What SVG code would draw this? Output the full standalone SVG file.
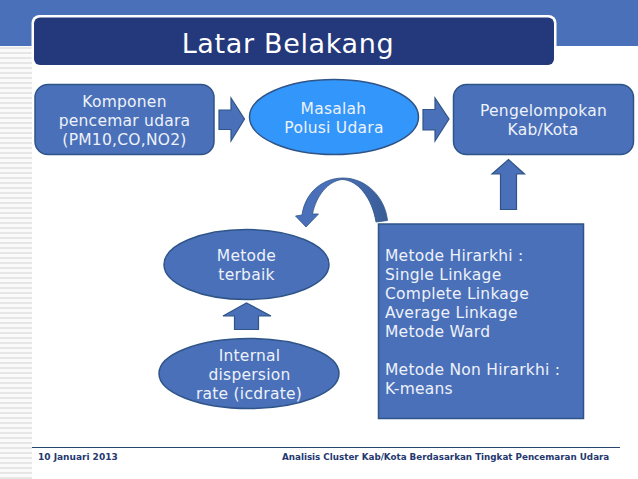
<svg xmlns="http://www.w3.org/2000/svg" width="638" height="479" viewBox="0 0 638 479">
<style>
text{font-family:"DejaVu Sans","Liberation Sans",sans-serif;fill:#eef2fa;text-anchor:middle;font-size:15.500px;letter-spacing:.25px}
.n{fill:#4a70b9;stroke:#2f5488;stroke-width:1.5}
.a{fill:#4a70b9;stroke:#2f5488;stroke-width:1.2}
.l{text-anchor:start}
.f{font-size:9px;font-weight:bold;fill:#24386f;text-anchor:start;letter-spacing:0}
</style>
<defs>
<pattern id="st" width="32" height="5" patternUnits="userSpaceOnUse"><rect width="32" height="5" fill="#fafafa"/><rect y="2" width="32" height="2" fill="#e6e6e6"/></pattern>
<linearGradient id="cv" x1="0" y1="0" x2="1" y2="0"><stop offset="0" stop-color="#4a70b9"/><stop offset="0.5" stop-color="#4a70b9"/><stop offset="1" stop-color="#385c94"/></linearGradient>
</defs>
<rect width="638" height="479" fill="#fff"/>
<g id="background">
<rect width="638" height="46" fill="#4a70b9"/>
<rect y="46" width="32" height="433" fill="url(#st)"/>
<rect x="31.500" y="15" width="525" height="51" rx="8" fill="#fff"/>
<rect x="34" y="17.500" width="520" height="47.500" rx="6" fill="#24387c"/>
<line x1="32" y1="447.500" x2="620" y2="447.500" stroke="#24466e" stroke-width="1.2"/>
<text class="f" x="38" y="459.500">10 Januari 2013</text>
<text class="f" x="282" y="459.500" style="font-size:8.750px">Analisis Cluster Kab/Kota Berdasarkan Tingkat Pencemaran Udara</text>
</g>
<g id="title"><text x="288" y="53" style="font-size:27px;letter-spacing:.65px;fill:#fff">Latar Belakang</text></g>
<g id="connectors">
<path class="a" d="M219 110H231V98L244.500 119L231 141V129.500H219Z"/>
<path class="a" d="M423 109.500H435V98L449 119L435 141V130H423Z"/>
<path class="a" d="M500.500 209.500V174H492L508.500 159.500L524.500 174H516.500V209.500Z"/>
<path class="a" d="M234.500 329.500V316H223L246.500 303L271 316H258.500V329.500Z"/>
<path d="M387.500 220.500C385 197 366 178 343 178C322 178 305 193 302 215L295.500 216L306 227L318.500 214L312.500 214C316 196 328 181 342 179.500C358 180 372 198 376 222Z" fill="url(#cv)" stroke="#2f5488" stroke-width=".8"/>
</g>
<g id="node-komponen">
<rect class="n" x="35" y="84.500" width="179" height="70" rx="13"/>
<text x="124.500" y="107">Komponen</text>
<text x="124.500" y="126">pencemar udara</text>
<text x="124.500" y="145">(PM10,CO,NO2)</text>
</g>
<g id="node-masalah">
<ellipse cx="334" cy="117" rx="84.500" ry="37.500" fill="#3296fa" stroke="#2f5488" stroke-width="1.5"/>
<text x="333.500" y="114">Masalah</text>
<text x="334" y="133">Polusi Udara</text>
</g>
<g id="node-pengelompokan">
<rect class="n" x="453.500" y="84.500" width="180" height="70" rx="13"/>
<text x="543.500" y="116">Pengelompokan</text>
<text x="543" y="135">Kab/Kota</text>
</g>
<g id="node-hirarkhi">
<rect class="n" x="378.500" y="224" width="205" height="194.500"/>
<text class="l" x="385" y="261">Metode Hirarkhi :</text>
<text class="l" x="385" y="280">Single Linkage</text>
<text class="l" x="385" y="299">Complete Linkage</text>
<text class="l" x="385" y="318">Average Linkage</text>
<text class="l" x="385" y="337">Metode Ward</text>
<text class="l" x="385" y="375">Metode Non Hirarkhi :</text>
<text class="l" x="385" y="394">K-means</text>
</g>
<g id="node-terbaik">
<ellipse class="n" cx="246.500" cy="264.500" rx="82.500" ry="35"/>
<text x="246.500" y="261">Metode</text>
<text x="246.500" y="280">terbaik</text>
</g>
<g id="node-internal">
<ellipse class="n" cx="249" cy="373.500" rx="90" ry="35"/>
<text x="249.500" y="361">Internal</text>
<text x="249.500" y="380">dispersion</text>
<text x="249" y="399">rate (icdrate)</text>
</g>
</svg>
